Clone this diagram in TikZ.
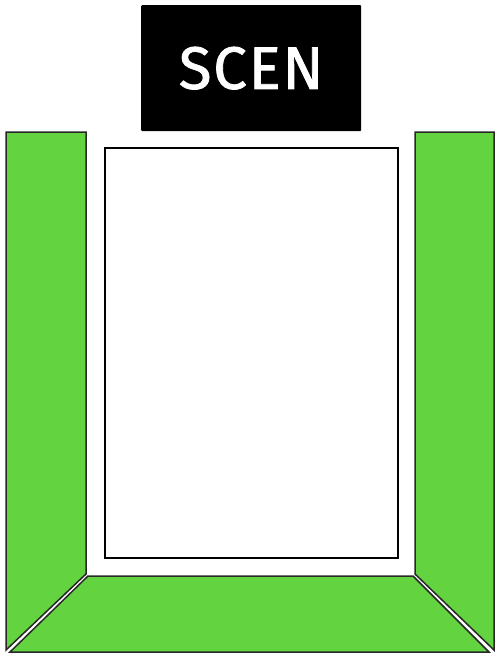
\documentclass[tikz,border=0pt]{standalone}
\usepackage{fontspec}
\setmainfont{Fira Sans}
\newfontfamily\scenfont{Fira Sans}[FakeBold=1.3, LetterSpace=3]
\definecolor{grn}{RGB}{99,212,64}
\definecolor{edge}{RGB}{40,40,40}
\tikzset{
  panel/.style={fill=grn, draw=edge, line width=1.5pt, line join=miter},
  stage/.style={fill=white, draw=black, line width=1.5pt},
}
\begin{document}
\begin{tikzpicture}[x=1pt,y=-1pt]
\useasboundingbox[fill=white] (0,0) rectangle (500,658);
% scene label
\node (scen) [fill=black, rounded corners=1pt, minimum width=220pt, minimum height=126pt, inner sep=0pt, anchor=north west, text=white, font=\scenfont\fontsize{60}{60}\selectfont] at (141,5) {SCEN};
% floor area
\node (floor) [stage, minimum width=293pt, minimum height=410pt, inner sep=0pt, anchor=north west] at (104,147) {};
% left side
\draw[panel] (6,132) -- (86,132) -- (86,574) -- (6,650) -- cycle;
% right side
\draw[panel] (415,132) -- (494,132) -- (494,650) -- (415,574) -- cycle;
% back
\draw[panel] (88,576) -- (413,576) -- (489,652) -- (10,652) -- cycle;
\end{tikzpicture}
\end{document}
